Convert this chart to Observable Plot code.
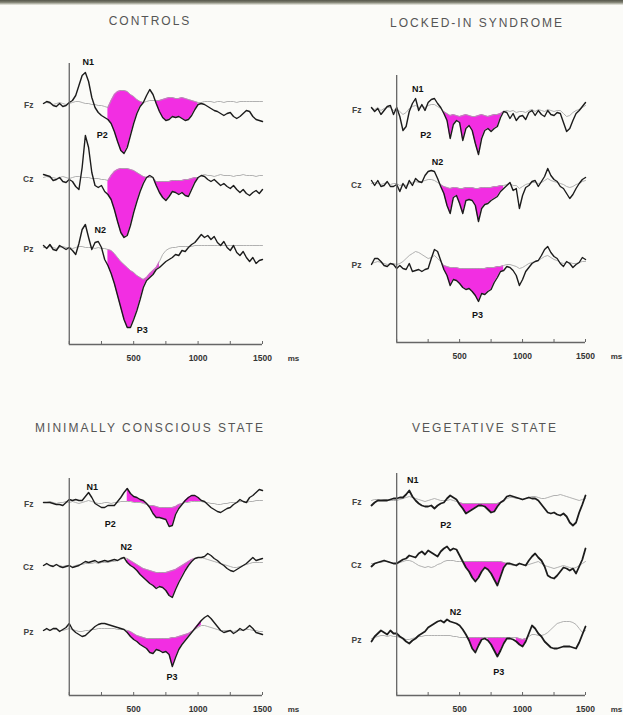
<!DOCTYPE html>
<html><head><meta charset="utf-8">
<script src="https://cdn.jsdelivr.net/npm/d3@7"></script>
<script src="https://cdn.jsdelivr.net/npm/@observablehq/plot@0.6"></script>
<style>
body{margin:0;background:#fbfbf8;}
#wrap{position:relative;width:623px;height:715px;overflow:hidden;font-family:"Liberation Sans",Arial,sans-serif;background:#fbfbf8;}
.panel{position:absolute;}
.title{position:absolute;transform:translate(-50%,-50%);white-space:nowrap;font-size:12px;letter-spacing:2px;color:#555;}
#topband{position:absolute;left:0;top:0;width:623px;height:5px;background:linear-gradient(#55564a,#7d7e70 45%,#f0f0e8);z-index:5;}
</style></head><body>
<div id="wrap"><div id="topband"></div></div>
<script>
// ---- data ----
const channels = ["Fz", "Cz", "Pz"];
const titles = ["CONTROLS", "LOCKED-IN SYNDROME", "MINIMALLY CONSCIOUS STATE", "VEGETATIVE STATE"];
const tStart = -200, tEnd = 1500, tStep = 25;
const tickValues = [500, 1000, 1500];
const minorTicks = [0, 250, 500, 750, 1000, 1250, 1500];
const unitLabel = "ms";

// Controls (black = target response, Ref = grey trace), 25 ms steps from -200 to 1500
const ctrlFz = [0,2,1,-2,-3,0,-3,-2,1, 3,8,18,28,31,22,6,-4,-9,-12,-14,-16, -20,-28,-38,-47,-50,-44,-32,-20,-10,-3,1, 8,14,9,0,-8,-14,-17,-16,-13,-14,-13,-15,-17,-16,-12,-6,-1, 0,-1,-3,-5,-7,-8,-10,-12,-10,-9,-13,-15,-13,-10,-7,-8,-13,-16,-17,-18];
const ctrlFzRef = [0,1,0,-1,0,1,0,-1,0,1,2,2,1,0,0,-1,-1,-2,-2,-3, -4,3,9,12,13,13,12,9,7,4,2,1, 2,3,3,3,3,4,5,6,6,5,5,6,5,4,3,2,1, 1,2,2,2,1,2,2,1,2,2,2,1,2,2,2,2,2,2,2,2];
const ctrlCz = [3,2,1,-3,-2,0,-4,-5,-2,-4,-9,-12, 10,42,30,5,-8,-10,-8,-14,-17, -22,-32,-44,-55,-60,-58,-48,-35,-24,-14,-6,0, 2,0,-8,-15,-20,-23,-19,-14,-15,-17,-15,-18,-19,-12,-5,0, 2,1,-2,-4,-2,-5,-8,-6,-9,-11,-8,-12,-15,-12,-16,-18,-15,-13,-16,-12];
const ctrlCzRef = [0,1,0,0,-1,0,1,0,-1,0,1,1,0,0,0,-1,-1,-1,-2,-2, -3,2,6,8,9,9,9,8,7,5,3,1,0, 0,0,-4,-4,-4,-4,-4,-3,-3,-3,-3,-2,-2,-1,0,0, 2,3,2,2,1,2,3,2,2,2,1,2,2,3,2,2,2,1,2,2];
const ctrlPz = [2,-1,3,-2,-3,2,0,-2,0,-3,-7, 4,18,23,10,-2,5,6,0,-12,-18, -26,-36,-48,-60,-72,-80,-80,-72,-63,-52,-40,-33, -30,-27,-22,-20,-17,-14,-12,-10,-7,-8,-3,-4,0,3,5,9, 13,10,12,8,11,5,2,6,0,-3,2,-5,-8,-4,-10,-14,-10,-16,-13,-12];
const ctrlPzRef = [0,0,1,0,-1,0,1,0,0,-1,0,1,1,0,0,0,-1,0,-1,-1, -2,-3,-6,-10,-14,-17,-20,-23,-25,-28,-30,-32,-30,-26,-23,-20,-14, -7,-3,-1,0,0,1,1,1,1,1,2,2, 2,2,2,2,2,2,2,2,2,2,2,2,2,2,2,2,2,2,2,2];

// Locked-in syndrome
const lisFz = [1,-3,0,-6,-2,2,3,-6,1, -8,-22,-18,-3,5,10,-2,4,-2,6,9,10,5,1, -5,-12,-30,-16,-12,-14,-32,-20,-17,-22,-35,-46,-30,-22,-20,-23,-20,-18,-9,-3, -4,-10,-5,-12,-8,-7,-11,-4,-2,-7,-2,-6,-8,-2,-6,-7,-4,-5,-14,-23,-20,-12,-5,-2,2,6];
const lisFzRef = [0,-1,1,-2,0,1,1,-2,0,-3,-6,-4,0,2,3,1,2,1,3,4,4,2,0, -3,-5,-7,-6,-7,-8,-7,-6,-7,-8,-8,-7,-6,-7,-8,-7,-6,-6,-5,-3, -2,-3,-2,-4,-3,-3,-4,-2,-1,-3,-1,-2,-3,-1,-2,-3,-2,-2,-5,-8,-7,-4,-2,-1,1,3];
const lisCz = [3,-2,3,-3,-2,2,-3,-3,-1, -8,0,-5,3,-2,5,2,1,8,12,13,12,5,-3, -10,-22,-30,-14,-12,-20,-30,-17,-16,-17,-22,-38,-25,-21,-20,-17,-15,-13,-8,-5, -2,1,-7,-5,-25,-12,-4,-2,2,3,-3,2,7,15,8,4,2,-3,-5,-10,-15,-11,-5,0,4,6];
const lisCzRef = [0,1,0,-1,0,1,-1,0,0,-2,-1,-2,0,1,2,1,2,3,4,4,3,1,-1, -3,-4,-5,-4,-4,-5,-5,-4,-4,-4,-5,-5,-4,-4,-4,-4,-3,-3,-2,-2, -1,0,-2,-2,-5,-3,-1,0,1,1,0,1,3,5,3,2,1,0,-1,-3,-4,-3,-1,0,2,3];
const lisPz = [-1,5,5,2,-2,-3,0,-1,-5,-2,-5, -6,0,-8,-7,-6,-8,-6,-5,5,14,12,3, -6,-12,-22,-16,-17,-20,-24,-26,-25,-28,-32,-38,-30,-31,-28,-26,-19,-14,-8,-7, -3,-4,-7,-12,-22,-16,-8,-4,0,2,3,8,14,17,11,7,5,0,-3,2,0,-4,-1,1,6,4];
const lisPzRef = [0,1,2,1,0,-1,0,0,-1,0,2,5,8,10,12,11,9,7,5,6,8,5,2, -2,-3,-4,-4,-4,-5,-5,-5,-5,-5,-5,-5,-5,-5,-4,-4,-4,-3,-3,-2, -1,-1,-2,-3,-5,-4,-2,0,1,2,3,5,7,8,6,4,3,1,0,1,1,0,0,1,2,2];

// Minimally conscious state
const mcsFz = [0,0,0,-1,-2,-2,-3,0,3,2,3,2,2, 6,10,5,-1,-3,-5,-5,-3,-3,-3,1,5, 10,14,9,6,5,3,2,-1,-5,-11,-15,-15,-16,-17,-24,-23,-12,-6,-2,2,5,7,7,5, 2,1,-2,-5,-7,-9,-10,-8,-6,-5,-2,0,3,1,0,5,7,10,13,12];
const mcsFzRef = [0,0,1,0,-1,0,0,1,0,1,0,-1,0,1,2,1,0,-1,-1,0,0,-1,0,0,1, 1,1,1,0,0,0,-1,-2,-3,-3,-4,-5,-5,-5,-5,-5,-4,-2,-1,0,0,1,1,1, 1,0,0,-1,-1,-2,-2,-1,-1,0,0,0,1,1,0,1,1,2,2,2];
const mcsCz = [0,2,0,-1,1,-1,-2,-1,0,-2,-1,0,2,4,3,4,5,3,4,5,4,5,6,5,7, 8,3,0,-2,-5,-9,-12,-15,-18,-20,-23,-21,-22,-25,-30,-32,-24,-17,-11,-5,0,4,7,8,8, 9,12,10,7,5,2,0,-3,-5,-6,-4,-2,0,2,5,8,5,6,7];
const mcsCzRef = [0,1,0,0,1,0,-1,0,0,-1,0,1,1,2,2,2,3,2,3,3,3,4,4,5,6, 8,7,5,3,1,-1,-3,-4,-5,-6,-7,-7,-7,-7,-6,-5,-4,-2,0,2,4,6,7,8,8, 7,6,5,4,3,2,1,0,-1,-2,-2,-1,0,1,2,3,3,3,3];
const mcsPz = [0,2,0,2,2,-1,1,3,7,1,-2,-4,-6,-5,-2,1,4,6,7,7,6,5,4,3,2,1, -2,-6,-9,-11,-14,-16,-18,-22,-23,-19,-20,-22,-21,-24,-36,-27,-19,-14,-10,-6,-2,2,6,10, 13,15,12,8,4,0,-2,-1,0,-3,-1,2,0,2,5,2,-2,-3,-4];
const mcsPzRef = [0,1,0,1,1,0,0,1,2,1,0,-1,-1,0,0,1,1,2,2,2,2,2,2,1,1,1, 0,-1,-3,-5,-6,-7,-8,-8,-8,-8,-8,-8,-8,-8,-7,-7,-6,-5,-4,-3,-1,1,3,5, 5,4,3,2,1,0,0,0,0,-1,0,0,0,1,1,0,0,-1,-1];

// Vegetative state
const vsFz = [-5,-2,0,0,0,0,1,2,2,3,3,6,10, 4,0,-3,-5,-6,-6,-5,-8,-5,-3,-2,2,5,3,1, -4,-8,-13,-11,-9,-7,-5,-5,-6,-9,-12,-11,-6,-2,0, 4,5,4,3,2,1,2,3,2,2,0,-4,-8,-12,-13,-12,-14,-15,-13,-16,-22,-25,-22,-12,-4,5];
const vsFzRef = [0,1,1,0,1,1,0,0,0,1, 2,3,4,3,2,1,0,-1,0,1, 2,1,0,0,0,1,0,-1,-2,-3, -3,-3,-3,-3,-3,-3,-3,-3,-3,-3, -3,-2,-1,2,3,3,2,2,1,2, 3,4,4,3,2,2,3,4,5,5, 6,5,4,3,2,1,0,1,2];
const vsCz = [-3,0,1,2,3,2,1,0,0,2,4,5,8,7,6, 10,12,9,13,11,9,7,12,15,17,13,15,14,8, 2,-4,-8,-14,-18,-14,-8,-4,-6,-10,-16,-22,-13,-4,0,0, -1,-2,0,-1,-2,3,7,10,6,3,-3,-12,-14,-15,-12,-8,-4,-5,-7,-5,-10,-3,4,15];
const vsCzRef = [0,0,1,1,2,2,1,0,0,1, 2,3,3,2,0,-2,-3,-4,-3,-4, -3,-1,0,2,3,3,3,2,2,2, 2,2,2,2,2,2,2,2,2,2, 2,2,1,0,-1,-2,-1,0,-1,-2, -1,0,1,2,0,-2,-3,-4,-5,-4, -3,-2,-3,-4,-5,-4,-2,0,2];
const vsPz = [-3,2,5,8,6,4,8,5,5,2,0,-3,-5,-2,0, 3,5,7,11,13,15,17,18,16,19,17,16,15,13,9,4, -2,-10,-14,-7,-1,0,-2,-6,-12,-18,-12,-5,0,0,-1,-3,-6,-8,-3,5, 13,10,5,2,-3,-6,-9,-10,-10,-9,-8,-8,-8,-9,-10,-4,4,12];
const vsPzRef = [0,1,2,3,3,2,3,2,2,1, 0,-1,-1,0,1,2,2,3,3,3, 3,3,3,3,3,3,2,2,1,1, 1,1,1,1,1,1,1,1,1,1, 1,1,1,1,1,1,1,0,-1,0, 2,4,4,3,3,4,6,9,12,15, 16,17,17,17,16,14,10,6,8];

// significant windows (ms) per channel, magenta between the two traces
const ctrlWindows = [[[300, 575], [675, 1000]], [[300, 625], [650, 1000]], [[300, 700]]];
const lisWindows  = [[[375, 850]], [[350, 850]], [[350, 850]]];
const mcsWindows  = [[[450, 1025]], [[450, 1025]], [[450, 1025]]];
const vsWindows   = [[[500, 850]], [[525, 875]], [[575, 700], [725, 875], [950, 1025]]];

// component labels: [text, time ms, channel index, amplitude]
const ctrlLabels = [["N1", 147, 0, 41], ["P2", 256, 0, -32], ["N2", 240, 2, 17], ["P3", 566, 2, -83]];
const lisLabels  = [["N1", 167, 0, 19], ["P2", 230, 0, -27], ["N2", 325, 1, 21], ["P3", 643, 2, -52]];
const mcsLabels  = [["N1", 178, 0, 15], ["P2", 318, 0, -22], ["N2", 442, 1, 18], ["P3", 798, 2, -47]];
const vsLabels   = [["N1", 127, 0, 20], ["P2", 389, 0, -25], ["N2", 468, 2, 26], ["P3", 810, 2, -34]];

// ---- layout ----
const panels = [
  {title: titles[0], traces: [ctrlFz, ctrlCz, ctrlPz], refs: [ctrlFzRef, ctrlCzRef, ctrlPzRef], wins: ctrlWindows, labels: ctrlLabels,
   left: 0, top: 0, width: 311, height: 385, xLeft: 43, xRight: 262, base: [103, 177, 247], axisY: 344, axisTop: 63, titleX: 150, titleY: 21, sw: 1.4},
  {title: titles[1], traces: [lisFz, lisCz, lisPz], refs: [lisFzRef, lisCzRef, lisPzRef], wins: lisWindows, labels: lisLabels,
   left: 311, top: 0, width: 312, height: 385, xLeft: 60, xRight: 274, base: [108, 183, 263], axisY: 342, axisTop: 75, titleX: 166, titleY: 23, sw: 1.4},
  {title: titles[2], traces: [mcsFz, mcsCz, mcsPz], refs: [mcsFzRef, mcsCzRef, mcsPzRef], wins: mcsWindows, labels: mcsLabels,
   left: 0, top: 385, width: 311, height: 330, xLeft: 43, xRight: 262, base: [117, 180, 245], axisY: 310, axisTop: 93, titleX: 150, titleY: 43, sw: 1.4},
  {title: titles[3], traces: [vsFz, vsCz, vsPz], refs: [vsFzRef, vsCzRef, vsPzRef], wins: vsWindows, labels: vsLabels,
   left: 311, top: 385, width: 312, height: 330, xLeft: 60, xRight: 274, base: [115, 178, 253], axisY: 310, axisTop: 88, titleX: 174, titleY: 43, sw: 1.8}
];

const magenta = "#f22ee2";
const wrap = document.getElementById("wrap");

for (const p of panels) {
  const b0 = p.base[0];
  const off = p.base.map(b => b0 - b);
  const bottom = b0 - p.axisY;
  const rows = [];
  p.traces.forEach((tr, k) => {
    tr.forEach((v, i) => {
      rows.push({t: tStart + i * tStep, ch: channels[k], y: off[k] + v, yRef: off[k] + p.refs[k][i]});
    });
  });
  const fillRows = [];
  p.wins.forEach((ws, k) => {
    ws.forEach(([a, bEnd], w) => {
      rows.filter(r => r.ch === channels[k] && r.t >= a && r.t <= bEnd)
          .forEach(r => fillRows.push({...r, seg: k + "-" + w}));
    });
  });
  const labelRows = p.labels.map(([text, t, k, amp]) => ({text, t, y: off[k] + amp}));
  const nameOf = new Map(off.map((o, k) => [o, channels[k]]));

  const svg = Plot.plot({
    width: p.width, height: p.height,
    marginTop: 0, marginLeft: p.xLeft, marginRight: p.width - p.xRight, marginBottom: p.height - p.axisY,
    x: {domain: [tStart, tEnd], label: null},
    y: {domain: [bottom, b0], label: null},
    style: {background: "transparent", fontFamily: "'Liberation Sans', Arial, sans-serif", overflow: "visible"},
    marks: [
      Plot.areaY(fillRows, {x: "t", y1: "yRef", y2: "y", z: "seg", fill: magenta}),
      Plot.lineY(rows, {x: "t", y: "yRef", z: "ch", stroke: "#a8a8a8", strokeWidth: 0.9}),
      Plot.lineY(rows, {x: "t", y: "y", z: "ch", stroke: "#1c1c1c", strokeWidth: p.sw, strokeLinejoin: "round"}),
      Plot.ruleX([0], {y1: bottom, y2: b0 - p.axisTop, stroke: "#666", strokeWidth: 1.3}),
      Plot.ruleY([bottom], {x1: 0, x2: tEnd, stroke: "#666", strokeWidth: 1.3}),
      Plot.ruleX(minorTicks, {y1: bottom, y2: bottom + 3, stroke: "#666", strokeWidth: 1}),
      Plot.axisX(tickValues, {label: null, tickSize: 0, tickPadding: 10, tickFormat: d => String(d), fontSize: 8.5, fontWeight: "bold", fill: "#333"}),
      Plot.text([unitLabel], {x: tEnd, y: bottom, dx: 31, dy: 14, fontSize: 8, fontWeight: "bold", fill: "#333"}),
      Plot.axisY(off, {label: null, tickSize: 0, tickPadding: 10, tickFormat: d => nameOf.get(d), fontSize: 8.5, fontWeight: "bold", fill: "#444", dy: 2}),
      Plot.text(labelRows, {x: "t", y: "y", text: "text", fontSize: 9, fontWeight: "bold", fill: "#111"})
    ]
  });
  const holder = document.createElement("div");
  holder.className = "panel";
  holder.style.left = p.left + "px";
  holder.style.top = p.top + "px";
  holder.appendChild(svg);
  wrap.appendChild(holder);

  const title = document.createElement("div");
  title.className = "title";
  title.textContent = p.title;
  title.style.left = (p.left + p.titleX) + "px";
  title.style.top = (p.top + p.titleY) + "px";
  wrap.appendChild(title);
}
</script>
</body></html>
